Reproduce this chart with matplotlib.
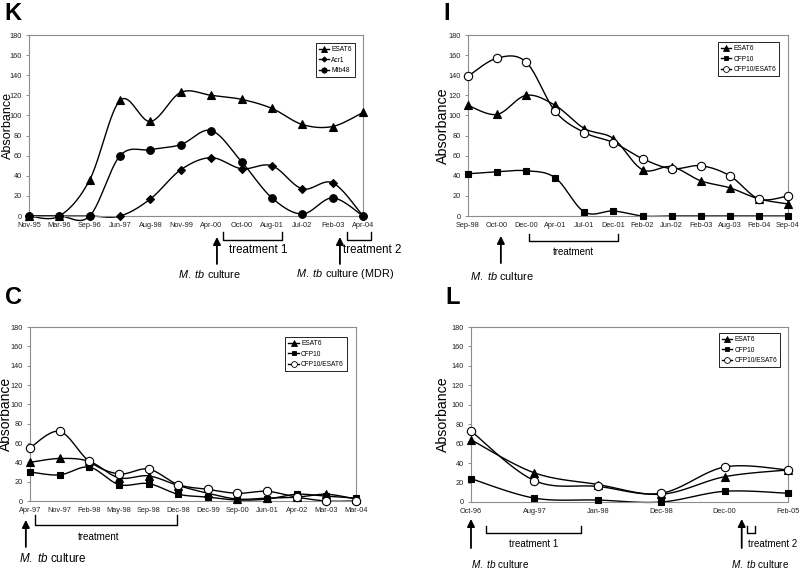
import numpy as np
import matplotlib
matplotlib.use('Agg')
import matplotlib.pyplot as plt
from matplotlib.lines import Line2D
from matplotlib.transforms import blended_transform_factory

plt.rcParams['font.family'] = ['Liberation Sans', 'DejaVu Sans']
plt.rcParams['mathtext.fontset'] = 'custom'
plt.rcParams['mathtext.rm'] = 'Liberation Sans'
plt.rcParams['mathtext.it'] = 'Liberation Sans:italic'

# panel K
k_dates = ['Nov-95', 'Mar-96', 'Sep-96', 'Jun-97', 'Aug-98', 'Nov-99', 'Apr-00',
           'Oct-00', 'Aug-01', 'Jul-02', 'Feb-03', 'Apr-04']
k_esat6 = [0, 0, 36, 115, 94, 123, 120, 116, 107, 91, 89, 103]
k_acr1 = [0, 0, 0, 0, 17, 46, 58, 47, 50, 27, 33, 0]
k_mtb48 = [0, 0, 0, 60, 66, 71, 85, 54, 18, 2, 18, 0]

# panel I
i_dates = ['Sep-98', 'Oct-00', 'Dec-00', 'Apr-01', 'Jul-01', 'Dec-01', 'Feb-02',
           'Jun-02', 'Feb-03', 'Aug-03', 'Feb-04', 'Sep-04']
i_esat6 = [110, 101, 120, 110, 87, 77, 46, 49, 35, 28, 17, 12]
i_cfp10 = [42, 44, 45, 38, 4, 5, 0, 0, 0, 0, 0, 0]
i_cfp10_esat6 = [139, 157, 153, 104, 83, 73, 57, 47, 50, 40, 17, 20]

# panel C
c_dates = ['Apr-97', 'Nov-97', 'Feb-98', 'May-98', 'Sep-98', 'Dec-98', 'Dec-99',
           'Sep-00', 'Jun-01', 'Apr-02', 'Mar-03', 'Mar-04']
c_esat6 = [40, 44, 41, 24, 26, 16, 8, 2, 3, 4, 7, 2]
c_cfp10 = [30, 27, 35, 17, 18, 7, 4, 1, 2, 7, 5, 3]
c_cfp10_esat6 = [55, 72, 41, 28, 33, 17, 12, 8, 10, 4, 0, 0]

# panel L
l_dates = ['Oct-96', 'Aug-97', 'Jan-98', 'Dec-98', 'Dec-00', 'Feb-05']
l_esat6 = [64, 30, 18, 8, 26, 33]
l_cfp10 = [24, 4, 2, 0, 11, 9]
l_cfp10_esat6 = [73, 22, 16, 9, 36, 33]

W, H = 800, 570


def smooth(y, n=24):
    # excel-like smoothed line: catmull-rom segments as cubic beziers
    y = np.asarray(y, dtype=float)
    pts = np.column_stack([np.arange(len(y), dtype=float), y])
    p = np.vstack([pts[0], pts, pts[-1]])
    t = np.linspace(0, 1, n)[1:, None]
    out = [pts[:1]]
    for i in range(len(pts) - 1):
        p0, p1, p2, p3 = p[i], p[i + 1], p[i + 2], p[i + 3]
        c1 = p1 + (p2 - p0) / 6
        c2 = p2 - (p3 - p1) / 6
        out.append((1 - t) ** 3 * p1 + 3 * (1 - t) ** 2 * t * c1
                   + 3 * (1 - t) * t ** 2 * c2 + t ** 3 * p2)
    out = np.vstack(out)
    return out[:, 0], out[:, 1]


def make_axes(fig, left, top, right, bottom):
    # pixel box (from top-left) -> figure fraction
    return fig.add_axes([left / W, 1 - bottom / H, (right - left) / W, (bottom - top) / H])


def draw_panel(ax, dates, series, legend_anchor, ylabel_x, ylabel_size):
    handles = []
    for vals, label, marker, ms, mfc in series:
        xs, ys = smooth(vals)
        ax.plot(xs, ys, color='black', lw=1.0, clip_on=False, zorder=2)
        ax.plot(range(len(vals)), vals, linestyle='none', marker=marker, ms=ms,
                mfc=mfc, mec='black', mew=0.8, clip_on=False, zorder=3)
        handles.append(Line2D([], [], color='black', lw=1.0, marker=marker,
                              ms=ms * 0.7, mfc=mfc, mec='black', mew=0.6, label=label))
    ax.set_xlim(0, len(dates) - 1)
    ax.set_ylim(0, 180)
    ax.set_yticks(range(0, 181, 20))
    ax.set_xticks(range(len(dates)))
    ax.set_xticklabels(dates)
    for s in ax.spines.values():
        s.set_color('#8c8c8c')
        s.set_linewidth(0.8)
    ax.tick_params(axis='both', colors='#8c8c8c', labelcolor='#222222',
                   labelsize=5.3, length=2.5, width=0.7)
    ax.tick_params(axis='x', pad=4.5, length=0)
    ax.tick_params(axis='y', pad=2.5)
    ax.set_ylabel('Absorbance', fontsize=ylabel_size, va='center')
    ax.yaxis.set_label_coords(ylabel_x, 0.5)
    leg = ax.legend(handles=handles, loc='upper right', bbox_to_anchor=legend_anchor,
                    fontsize=4.8, handlelength=1.6, handletextpad=0.3,
                    labelspacing=0.55, borderpad=0.45, borderaxespad=0,
                    fancybox=False, framealpha=1)
    leg.get_frame().set_edgecolor('black')
    leg.get_frame().set_linewidth(0.6)


def arrow(ax, x, y_head, y_tail):
    ax.annotate('', xy=(x, y_head), xytext=(x, y_tail),
                xycoords=('data', 'axes fraction'), textcoords=('data', 'axes fraction'),
                arrowprops=dict(arrowstyle='-|>', color='black', lw=1.3,
                                mutation_scale=11, shrinkA=0, shrinkB=0),
                annotation_clip=False)


def bracket(ax, x0, x1, y_top, y_bot):
    tr = blended_transform_factory(ax.transData, ax.transAxes)
    ax.plot([x0, x0, x1, x1], [y_top, y_bot, y_bot, y_top], color='black',
            lw=1.0, transform=tr, clip_on=False)


def note(ax, x, y, s, size, ha='center'):
    tr = blended_transform_factory(ax.transData, ax.transAxes)
    ax.text(x, y, s, transform=tr, ha=ha, va='center', fontsize=size)


mtb = r'$\it{M.\ tb}$ culture'

fig = plt.figure(figsize=(W / 100, H / 100), dpi=100)

# K
ax = make_axes(fig, 29, 35, 363, 216)
draw_panel(ax, k_dates,
           [(k_esat6, 'ESAT6', '^', 6, 'black'),
            (k_acr1, 'Acr1', 'D', 3.8, 'black'),
            (k_mtb48, 'Mtb48', 'o', 5.5, 'black')],
           (0.976, 0.956), -0.062, 9.0)
arrow(ax, 6.19, -0.116, -0.265)
arrow(ax, 10.24, -0.116, -0.265)
bracket(ax, 6.39, 8.33, -0.088, -0.133)
bracket(ax, 10.47, 11.26, -0.088, -0.133)
note(ax, 7.54, -0.188, 'treatment 1', 8.3)
note(ax, 11.3, -0.188, 'treatment 2', 8.3)
note(ax, 5.96, -0.32, mtb, 7.8)
note(ax, 10.4, -0.32, mtb + ' (MDR)', 7.8)

# I
ax = make_axes(fig, 468, 35, 788, 216)
draw_panel(ax, i_dates,
           [(i_esat6, 'ESAT6', '^', 6, 'black'),
            (i_cfp10, 'CFP10', 's', 5, 'black'),
            (i_cfp10_esat6, 'CFP10/ESAT6', 'o', 6, 'white')],
           (0.972, 0.961), -0.079, 10.3)
arrow(ax, 1.13, -0.11, -0.26)
bracket(ax, 2.1, 5.16, -0.099, -0.138)
note(ax, 3.61, -0.199, 'treatment', 7.0)
note(ax, 1.17, -0.331, mtb, 7.9)

# C
ax = make_axes(fig, 30, 327, 356, 501)
draw_panel(ax, c_dates,
           [(c_esat6, 'ESAT6', '^', 6, 'black'),
            (c_cfp10, 'CFP10', 's', 5, 'black'),
            (c_cfp10_esat6, 'CFP10/ESAT6', 'o', 6, 'white')],
           (0.972, 0.943), -0.074, 10.0)
arrow(ax, -0.14, -0.109, -0.264)
bracket(ax, 0.17, 4.96, -0.08, -0.138)
note(ax, 2.31, -0.207, 'treatment', 7.1)
note(ax, 0.78, -0.333, mtb, 8.4)

# L
ax = make_axes(fig, 471, 327, 788, 502)
draw_panel(ax, l_dates,
           [(l_esat6, 'ESAT6', '^', 6, 'black'),
            (l_cfp10, 'CFP10', 's', 5, 'black'),
            (l_cfp10_esat6, 'CFP10/ESAT6', 'o', 6, 'white')],
           (0.975, 0.966), -0.089, 10.2)
arrow(ax, 0.0, -0.097, -0.263)
arrow(ax, 4.27, -0.097, -0.263)
bracket(ax, 0.24, 1.73, -0.137, -0.177)
bracket(ax, 4.35, 4.48, -0.137, -0.177)
note(ax, 0.98, -0.24, 'treatment 1', 7.0)
note(ax, 4.37, -0.24, 'treatment 2', 7.0, ha='left')
note(ax, 0.46, -0.355, mtb, 7.2)
note(ax, 4.56, -0.355, mtb, 7.2)

# panel letters
for letter, px, py in [('K', 13, 14), ('I', 447, 13), ('C', 13, 297), ('L', 453, 298)]:
    fig.text(px / W, 1 - py / H, letter, fontsize=17, fontweight='bold',
             ha='center', va='center')

fig.savefig('out.png', dpi=100)
